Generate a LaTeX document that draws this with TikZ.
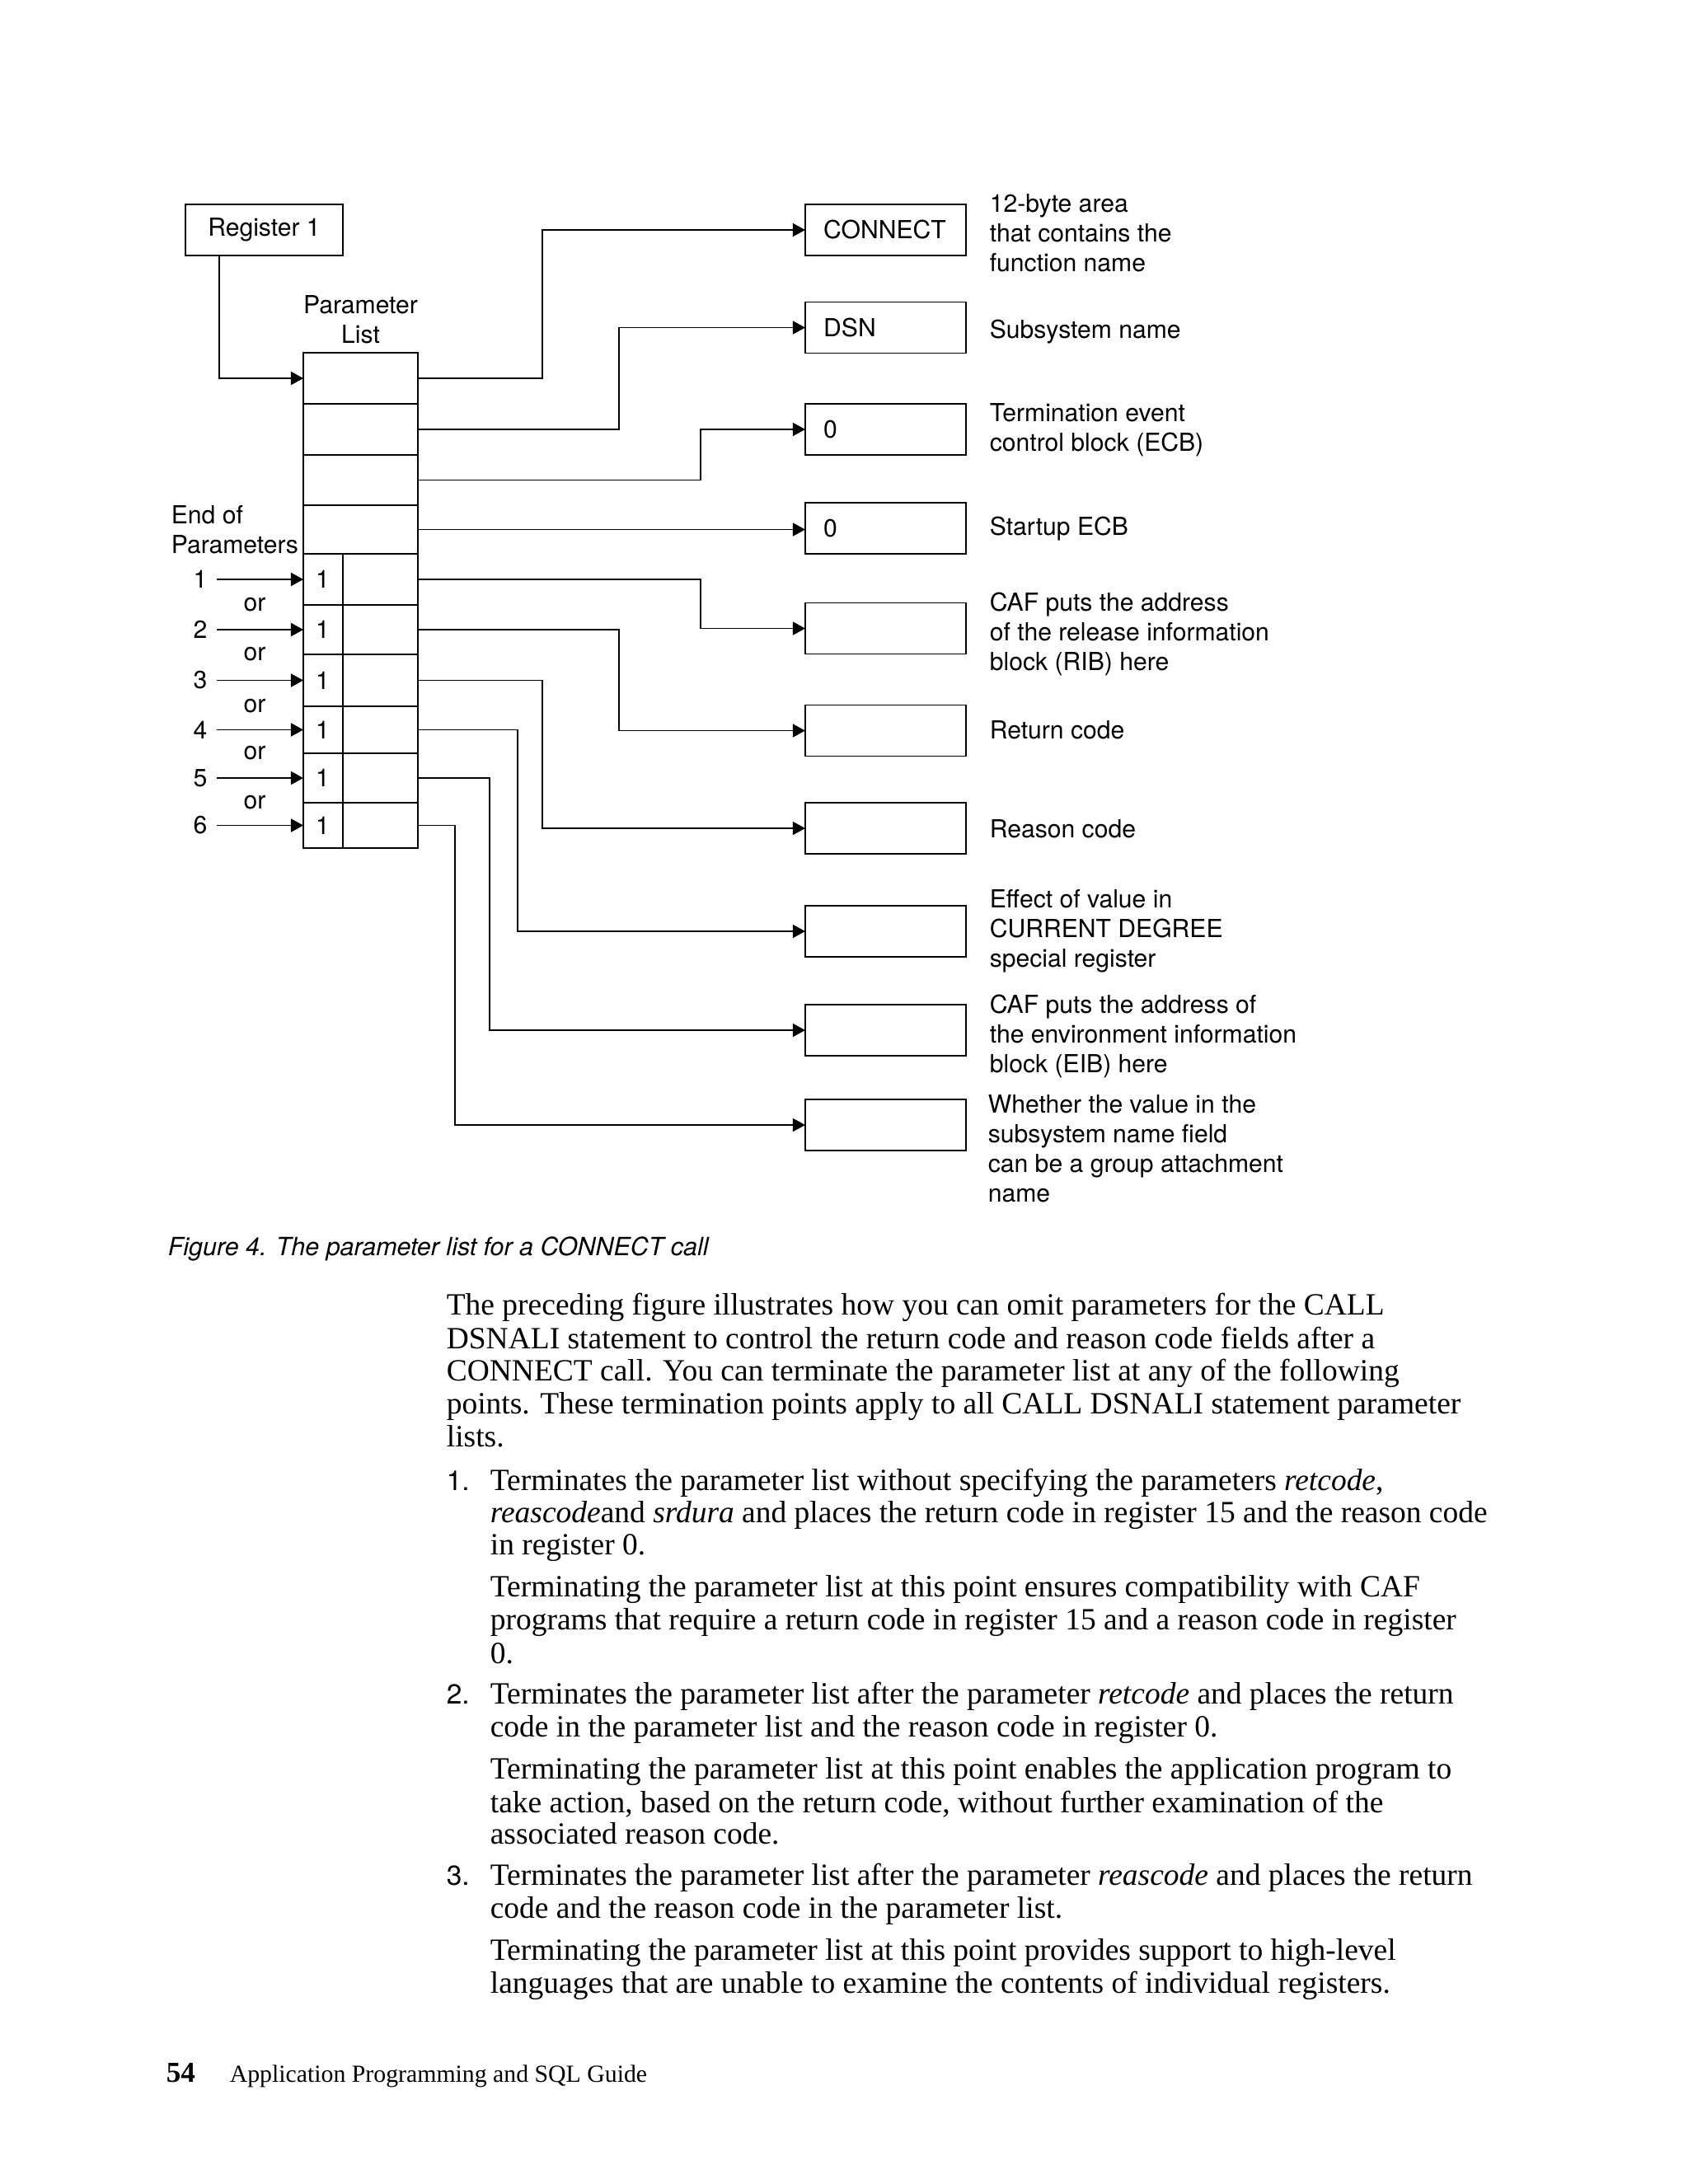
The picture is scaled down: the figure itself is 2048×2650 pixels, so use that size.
\documentclass[tikz,border=0pt]{standalone}
\usepackage{fontspec}
\setmainfont{Liberation Serif}
\setsansfont{TeX Gyre Heros}
\usetikzlibrary{arrows.meta}

\tikzset{
	arr/.style={-{Triangle[length=4.5pt,width=4.8pt]}},
	cell/.style={draw,minimum width=41.5pt,inner sep=0,outer sep=0},
	box/.style={draw,minimum width=58.3pt,minimum height=18.5pt,inner sep=0,outer sep=0,text width=45pt,align=left},
	desc/.style={anchor=west,align=left,inner sep=0},
	txt/.style={anchor=base west,inner sep=0,font=\rmfamily\fontsize{11.2}{12}\selectfont}
}

\begin{document}
\begin{tikzpicture}[x=0.2988pt,y=-0.2988pt,line width=0.5pt,font=\sffamily\fontsize{9}{10.76}\selectfont]
\path[use as bounding box,fill=white] (0,0) rectangle (2048,2650);
% parameter list
\foreach \i/\t/\b in {1/428/490,2/490/552,3/552/613,4/613/672,5/672/734,6/734/794,7/794/857,8/857/914,9/914/974,10/974/1029}
	\node[cell,minimum height={(\b-\t)*0.2988pt}] (p\i) at (437.5,{(\t+\b)/2}) {};
\foreach \i in {5,...,10}{
	\draw ([xshift=14.34pt]p\i.north west) -- ([xshift=14.34pt]p\i.south west);
	\node at ([xshift=7pt]p\i.west) {1};
}
\node[align=center] (plab) at (437.5,388) {Parameter\\List};
\node[draw,minimum width=57.1pt,minimum height=18.5pt,inner sep=0] (reg) at (320.5,279) {Register 1};
\draw[arr] ([xshift=-16.3pt]reg.south) |- (p1.west);
% end of parameters
\node[desc] (eop) at (207,643) {End of\\Parameters};
\foreach \n/\r in {1/5,2/6,3/7,4/8,5/9,6/10}{
	\node (e\n) at (243,0 |- p\r) {\n};
	\draw[arr] (e\n) -- (p\r);
}
\foreach \r in {5,...,9}
	\node (or\r) at (309,0 |- p\r.south) {or};
% target areas
\node[box] (b1) at (1074.5,279) {CONNECT};
\node[box] (b2) at (1074.5,397.5) {DSN};
\node[box] (b3) at (1074.5,521) {0};
\node[box] (b4) at (1074.5,641) {0};
\node[box] (b5) at (1074.5,762.5) {};
\node[box] (b6) at (1074.5,886.5) {};
\node[box] (b7) at (1074.5,1005) {};
\node[box] (b8) at (1074.5,1130) {};
\node[box] (b9) at (1074.5,1250) {};
\node[box] (b10) at (1074.5,1365) {};
\draw[arr] (p1.east) -- ++(151,0) |- (b1.west);
\draw[arr] (p2.east) -- ++(244,0) |- (b2.west);
\draw[arr] (p3.east) -- ++(343,0) |- (b3.west);
\draw[arr] (p4.east) -- (p4.east -| b4.west);
\draw[arr] (p5.east) -- ++(343,0) |- (b5.west);
\draw[arr] (p6.east) -- ++(244,0) |- (b6.west);
\draw[arr] (p7.east) -- ++(151,0) |- (b7.west);
\draw[arr] (p8.east) -- ++(121,0) |- (b8.west);
\draw[arr] (p9.east) -- ++(87,0) |- (b9.west);
\draw[arr] (p10.east) -- ++(45,0) |- (b10.west);
% descriptions
\node[desc] (d1) at (1200,283) {12-byte area\\that contains the\\function name};
\node[desc] (d2) at (1200,403) {Subsystem name};
\node[desc] (d3) at (1200,522) {Termination event\\control block (ECB)};
\node[desc] (d4) at (1200,642) {Startup ECB};
\node[desc] (d5) at (1200,769) {CAF puts the address\\of the release information\\block (RIB) here};
\node[desc] (d6) at (1200,886) {Return code};
\node[desc] (d7) at (1200,1006) {Reason code};
\node[desc] (d8) at (1200,1130) {Effect of value in\\CURRENT DEGREE\\special register};
\node[desc] (d9) at (1200,1257) {CAF puts the address of\\the environment information\\block (EIB) here};
\node[desc] (d10) at (1198,1394) {Whether the value in the\\subsystem name field\\can be a group attachment\\name};
% caption
\node[txt,font=\sffamily\itshape\fontsize{9.1}{11}\selectfont] (cap) at (203,1523) {Figure 4. The parameter list for a CONNECT call};
% text
\node[txt] at (541,1595) {The preceding figure illustrates how you can omit parameters for the CALL};
\node[txt] at (541,1636) {DSNALI statement to control the return code and reason code fields after a};
\node[txt] at (541,1675) {CONNECT call. You can terminate the parameter list at any of the following};
\node[txt] at (541,1715) {points. These termination points apply to all CALL DSNALI statement parameter};
\node[txt] at (541,1755) {lists.};
\node[txt,font=\sffamily\fontsize{10}{12}\selectfont] at (541,1808) {1.};
\node[txt] at (594,1808) {Terminates the parameter list without specifying the parameters \textit{retcode},};
\node[txt] at (594,1847) {\textit{reascode}and \textit{srdura} and places the return code in register 15 and the reason code};
\node[txt] at (594,1886) {in register 0.};
\node[txt] at (594,1937) {Terminating the parameter list at this point ensures compatibility with CAF};
\node[txt] at (594,1977) {programs that require a return code in register 15 and a reason code in register};
\node[txt] at (594,2018) {0.};
\node[txt,font=\sffamily\fontsize{10}{12}\selectfont] at (541,2067) {2.};
\node[txt] at (594,2067) {Terminates the parameter list after the parameter \textit{retcode} and places the return};
\node[txt] at (594,2107) {code in the parameter list and the reason code in register 0.};
\node[txt] at (594,2158) {Terminating the parameter list at this point enables the application program to};
\node[txt] at (594,2199) {take action, based on the return code, without further examination of the};
\node[txt] at (594,2237) {associated reason code.};
\node[txt,font=\sffamily\fontsize{10}{12}\selectfont] at (541,2287) {3.};
\node[txt] at (594,2287) {Terminates the parameter list after the parameter \textit{reascode} and places the return};
\node[txt] at (594,2327) {code and the reason code in the parameter list.};
\node[txt] at (594,2378) {Terminating the parameter list at this point provides support to high-level};
\node[txt] at (594,2418) {languages that are unable to examine the contents of individual registers.};
% footer
\node[txt,font=\rmfamily\bfseries\fontsize{10.5}{12}\selectfont] (pg) at (201,2526) {54};
\node[txt,font=\rmfamily\fontsize{8.9}{10}\selectfont] (foot) at (278,2526) {Application Programming and SQL Guide};
\end{tikzpicture}
\end{document}
